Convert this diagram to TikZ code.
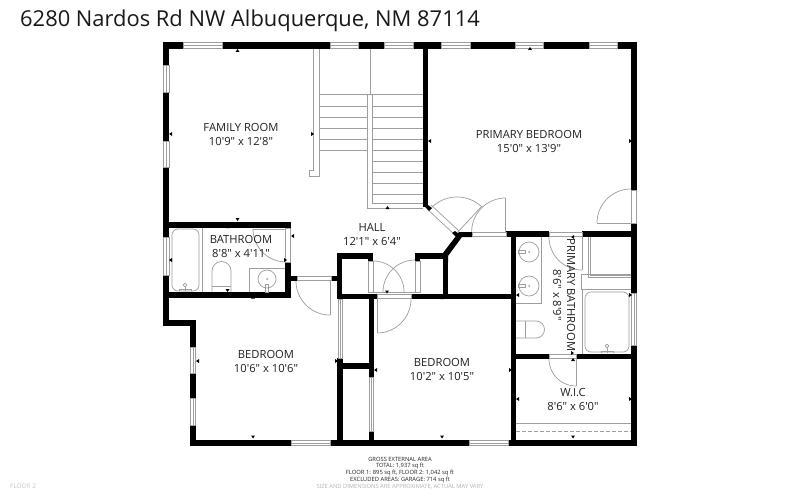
\documentclass[tikz,border=0pt]{standalone}
\usepackage{fontspec}
\setmainfont[Ligatures=TeXOff]{Open Sans}
\definecolor{ln}{gray}{0.62}
\definecolor{txt}{gray}{0.13}
\tikzset{
  x=1pt,y=-1pt,
  fix/.style={draw=ln,line width=0.7pt},
  fixf/.style={draw=ln,line width=0.7pt,fill=white},
  lab/.style={font=\fontsize{11.2}{14}\selectfont,text=txt,align=center,inner sep=0pt},
  foot/.style={font=\fontsize{5.8}{7}\selectfont,text=txt,inner sep=0pt},
  footl/.style={font=\fontsize{5.8}{7}\selectfont,text=black!30,inner sep=0pt}
}
\newcommand{\doorarc}[5]{% cx cy r a1 a2
  \draw[fix,domain=#4:#5,samples=30,variable=\t] plot ({#1+#3*cos(\t)},{#2+#3*sin(\t)});}
\begin{document}
\begin{tikzpicture}
\useasboundingbox[fill=white] (0,0) rectangle (800,500);
% walls
\foreach \a/\b/\c/\d in {
 162.5/42/183/49, 222/42/330/49, 358/42/384/49, 413/42/441/49, 470/42/515/49, 543/42/589/49, 617/42/637/49,
 631/42/637/190, 631/223/637/237, 631/237/637/293, 631/345/637/446,
 162.5/42/169/65, 162.5/92/169/141, 162.5/167/169/237, 162.5/275/169/326,
 162.5/320/196/326, 190/320/196/347, 190/373/196/398, 190/425/196/446,
 190/440/291/446, 330/440/469/446, 508/440/637/446,
 162.5/222/291/228, 285/222/291/228, 285/262/291/298, 162.5/292/291/298,
 291/276/297/281, 331/276/342/281,
 337/253/342/299, 337/253/373/259, 368/253/373/261,
 337/294/377/299, 411/294/516/299,
 369/294/374/377, 343/363/369/369, 369/431/374/446, 337/358/343/446,
 415/253/448/259, 415/253/420/261, 443/253/448/299,
 506/231/549/237, 582/231/631/237, 511/231/516/446,
 512/354/549/359, 576/354/631/359,
 423/42/428/207}
 {\fill[black] (\a,\b) rectangle (\c,\d);}
\fill[black] (443,253)--(459,232)--(472,232)--(472,237)--(462,237)--(448,256)--(448,262)--(443,262)--cycle;
% horizontal windows / openings
\foreach \a/\b/\c/\d in {183/42.5/222/48.5, 330/42.5/358/48.5, 384/42.5/413/48.5, 441/42.5/470/48.5, 515/42.5/543/48.5, 589/42.5/617/48.5,
 291/440.5/330/445.5, 469/440.5/508/445.5}
 {\draw[fixf] (\a,\b) rectangle (\c,\d); \draw[fix] (\a,{(\b+\d)/2}) -- (\c,{(\b+\d)/2});}
% vertical windows
\foreach \a/\b/\c/\d in {163/65/169/92, 163/141/169/167, 163/237/169/275, 190.5/347/195.5/373, 190.5/398/195.5/425, 631.5/293/636.5/345}
 {\draw[fixf] (\a,\b) rectangle (\c,\d); \draw[fix] ({(\a+\c)/2},\b) -- ({(\a+\c)/2},\d);}
% closet / door openings
\foreach \a/\b/\c/\d in {631.5/190/636.5/223, 285.5/228/290.5/262, 368.5/261/373.5/292, 415.5/261/420.5/292,
 338/299/342/358, 369.5/377/373.5/431}
 {\draw[fixf] (\a,\b) rectangle (\c,\d);}
\foreach \a/\b/\c/\d in {297/276.5/331/280.5, 472/232.5/506/236.5, 549/232/582/236.5, 377/294.5/411/298.5, 549/354.5/576/358.5}
 {\draw[fixf] (\a,\b) rectangle (\c,\d);}
\draw[fix] (340,299)--(340,358) (371.5,377)--(371.5,431);
% diagonal opening
\draw[fix] (431,205)--(459,231) (427,209)--(455,235);
\fill[black] (428,205)--(432,208)--(429,211)--(425,207)--cycle;
\fill[black] (455,231)--(459,234)--(456,237)--(452,233)--cycle;
% stairs
\draw[fix] (313,49)--(313,170)--(309,170)--(309,176)--(319,176)--(319,49);
\draw[fix] (370,49)--(370,94);
\draw[fix] (423,208)--(367,208)--(367,94)--(423,94);
\draw[fix] (372,94)--(372,203)--(423,203);
\foreach \y in {94,106,117,128,139,150}{\draw[fix] (319,\y)--(367,\y);}
\foreach \y in {106,117,128,139,150,161,172,183,194}{\draw[fix] (372,\y)--(423,\y);}
% doors
\doorarc{457}{233}{36}{225}{313}
\draw[fix] (457,233)--(482,206);
\doorarc{505.6}{232}{34}{180}{270}
\draw[fix] (505.6,232)--(505.6,198);
\doorarc{631}{223}{34}{180}{270}
\draw[fix] (631,223)--(597,223);
\doorarc{286}{229}{33}{90}{180}
\draw[fix] (286,229)--(253,229);
\doorarc{330}{281}{34}{90}{180}
\draw[fix] (330,281)--(330,315);
\doorarc{373}{292}{31}{270}{360}
\doorarc{415}{292}{32}{180}{270}
\draw[fix] (373,292)--(415,292);
\doorarc{377}{299}{34}{0}{90}
\draw[fix] (377,299)--(377,333);
\doorarc{582}{237}{33}{90}{180}
\draw[fix] (582,237)--(582,270);
\doorarc{576}{359}{27}{90}{180}
\draw[fix] (576,359)--(576,386);
% bathroom fixtures
\draw[fix] (202,228)--(202,292);
\draw[fix,rounded corners=6pt] (172,229) rectangle (199,291);
\draw[fix] (185,285) circle (1.8);
\draw[fix] (185,287)--(185,291) (179,291)--(179,289)--(191,289)--(191,291);
\draw[fix] (212,292)--(212,271) arc[start angle=180,end angle=360,radius=9.5] -- (231,292);
\draw[fix] (212,286)--(231,286);
\draw[fix] (249,292)--(249,268)--(285,268);
\draw[fix] (267,279) circle (9);
\fill[ln] (267,279) circle (1);
\draw[fix] (265.5,284) rectangle (268.5,292);
% primary bath fixtures
\draw[fix] (516,303)--(541,303)--(541,237);
\draw[fix] (529,252) circle (10);
\draw[fix] (529,286) circle (10);
\fill[ln] (529,252) circle (1); \fill[ln] (529,286) circle (1);
\draw[fix] (518,250.5) rectangle (525,253.5);
\draw[fix] (518,284.5) rectangle (525,287.5);
\draw[fix] (516,321)--(536,321) arc[start angle=-90,end angle=90,radius=8.5] -- (516,338);
\draw[fix] (525,321)--(525,338);
\draw[fix] (588,237)--(588,277)--(631,277) (590,237)--(590,275)--(631,275);
\draw[fix] (631,274)--(581,274)--(581,289)--(631,289);
\draw[fix] (582,289)--(582,354);
\draw[fix,rounded corners=6pt] (585,292) rectangle (629,352);
\draw[fix] (607,346) circle (1.8);
\draw[fix] (607,348)--(607,353) (601,353)--(601,351)--(613,351)--(613,353);
% WIC shelf
\draw[fix] (516,423)--(631,423);
\draw[fix,dashed,dash pattern=on 4pt off 2pt] (516,431)--(631,431);
% small triangles
\foreach \x/\y in {237.5/52, 227.5/228, 387.5/209, 530/50, 253/298.5, 442/299, 573/361}
 {\fill[black] (\x-2,\y)--(\x+2,\y)--(\x,\y-3)--cycle;}
\foreach \x/\y in {237.5/220, 227.5/291, 387/292.5, 253/437.5, 442/437.5, 573/437.5}
 {\fill[black] (\x-2,\y-2)--(\x+2,\y-2)--(\x,\y+1)--cycle;}
\foreach \x/\y in {170/134, 292/236, 429/141, 170/260, 517/295, 517/399, 197/361, 375/370, 572/237}
 {\fill[black] (\x+2,\y-2)--(\x+2,\y+2)--(\x-1,\y)--cycle;}
\foreach \x/\y in {312/134, 630/141, 285/260, 630/295, 630/399, 336/361, 510/370, 572/353}
 {\fill[black] (\x-1,\y-2)--(\x-1,\y+2)--(\x+2,\y)--cycle;}
% text
\node[anchor=west,font=\fontsize{21.9}{24}\selectfont,text=black!90,inner sep=0pt] (title) at (20,20.5) {6280 Nardos Rd NW Albuquerque, NM 87114};
\node[lab] (family) at (241,134.5) {FAMILY ROOM\\10'9" x 12'8"};
\node[lab] (primary) at (529,141) {PRIMARY BEDROOM\\15'0" x 13'9"};
\node[lab] (hall) at (372,234.5) {HALL\\12'1" x 6'4"};
\node[lab] (bath) at (241,246) {BATHROOM\\8'8" x 4'11"};
\node[lab,rotate=-90] (pbath) at (564,295) {PRIMARY BATHROOM\\8'6" x 8'9"};
\node[lab] (bed1) at (266,361.5) {BEDROOM\\10'6" x 10'6"};
\node[lab] (bed2) at (442,369.5) {BEDROOM\\10'2" x 10'5"};
\node[lab] (wic) at (573,399) {W.I.C\\8'6" x 6'0"};
\node[foot] (f1) at (400,459) {GROSS EXTERNAL AREA};
\node[foot] (f2) at (400,466) {TOTAL: 1,937 sq ft};
\node[foot] (f3) at (400,473) {FLOOR 1: 895 sq ft, FLOOR 2: 1,042 sq ft};
\node[foot] (f4) at (400,480) {EXCLUDED AREAS: GARAGE: 714 sq ft};
\node[footl] (f5) at (400,487) {SIZE AND DIMENSIONS ARE APPROXIMATE, ACTUAL MAY VARY};
\node[footl,anchor=west,font=\fontsize{6.4}{7}\selectfont,text=black!22] (floor) at (10,486) {FLOOR 2};
\end{tikzpicture}
\end{document}
